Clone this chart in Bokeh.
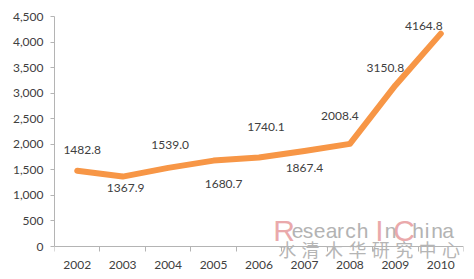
from bokeh.plotting import figure
from bokeh.models import (Range1d, FixedTicker, NumeralTickFormatter, Label,
                          ColumnDataSource)
from bokeh.core.properties import value
from bokeh.embed import file_html
from bokeh.resources import INLINE

# ---- data ----
years = ["2002", "2003", "2004", "2005", "2006", "2007", "2008", "2009", "2010"]
values = [1482.8, 1367.9, 1539.0, 1680.7, 1740.1, 1867.4, 2008.4, 3150.8, 4164.8]
y_ticks = [0, 500, 1000, 1500, 2000, 2500, 3000, 3500, 4000, 4500]

# label offsets (screen px) - layout only
label_dx = [5, 3, 2, 10, 7, 0, -10, -10, -17]
label_dy = [-21, 11, -23, 23, -31, 17, -28, -17, -8]

W, H = 474, 279
L, R, T = 54, 11, 16
AXIS_Y = 246          # screen row of the value 0
FONT = "Lato"
TXT = "#404040"
AX = "#b4b4b4"

ymax = y_ticks[-1]
fh = (AXIS_Y - T) / ymax              # px per unit
ymin = -(H - AXIS_Y) / fh              # extend frame to bottom edge

p = figure(width=W, height=H, output_backend="svg", toolbar_location=None,
           x_range=Range1d(-0.5, len(years) - 0.5), y_range=Range1d(ymin, ymax),
           min_border_left=L, min_border_right=R, min_border_top=T,
           min_border_bottom=0)
p.outline_line_color = None
p.xgrid.visible = False
p.ygrid.visible = False
p.background_fill_color = "white"
p.border_fill_color = "white"

xs = list(range(len(years)))

# y axis
p.yaxis.ticker = FixedTicker(ticks=y_ticks)
p.yaxis.bounds = (0, ymax)
p.yaxis.formatter = NumeralTickFormatter(format="0,0")
p.yaxis.axis_line_color = AX
p.yaxis.major_tick_line_color = AX
p.yaxis.major_tick_out = 4
p.yaxis.major_tick_in = 0
p.yaxis.minor_tick_line_color = None
p.yaxis.major_label_standoff = 7
p.yaxis.major_label_text_font = FONT
p.yaxis.major_label_text_font_size = "12px"
p.yaxis.major_label_text_color = TXT

# x axis
p.xaxis.fixed_location = 0
p.xaxis.ticker = FixedTicker(ticks=xs, minor_ticks=[i - 0.5 for i in range(len(years) + 1)])
p.xaxis.major_label_overrides = {i: y for i, y in enumerate(years)}
p.xaxis.axis_line_color = AX
p.xaxis.major_tick_line_color = None
p.xaxis.major_tick_out = 5
p.xaxis.major_tick_in = 0
p.xaxis.minor_tick_line_color = AX
p.xaxis.minor_tick_out = 5
p.xaxis.minor_tick_in = 0
p.xaxis.major_label_standoff = 9
p.xaxis.major_label_text_font = FONT
p.xaxis.major_label_text_font_size = "12px"
p.xaxis.major_label_text_color = TXT

# ---- watermark ----
fw = (W - L - R) / len(years)


def dx(px):
    return (px - L) / fw - 0.5


def dy(py):
    return (AXIS_Y - py) / fh


wm_letters = list("ResearchInChina")
wm_centers = [283.5, 297, 307.5, 319, 331, 340, 350, 362, 379, 390, 403.5, 417.5, 426.5, 436.5, 447.5]
pink = "#eaa9ab"
grey = "#b3b3b3"
for ch, cx in zip(wm_letters, wm_centers):
    col = pink if ch in "RIC" else grey
    p.add_layout(Label(x=dx(cx), y=dy(230), text=ch, text_align="center",
                       text_baseline="alphabetic", text_color=col,
                       text_font="Liberation Sans",
                       text_font_size="30px" if ch in "RIC" else "21px"))

cn = "水清木华研究中心"
for i, ch in enumerate(cn):
    cx = 275 + 11.7 + 23.4 * i
    p.add_layout(Label(x=dx(cx), y=dy(248.5), text=ch, text_align="center",
                       text_baseline="middle", text_color="#b5b5b5",
                       text_font="Noto Sans CJK SC", text_font_size="18px"))

# ---- line ----
src = ColumnDataSource(dict(x=xs, y=values,
                            lab=[f"{v:.1f}" for v in values],
                            dx=label_dx, dy=label_dy))
p.line("x", "y", source=src, line_width=6, line_color="#F79646",
       line_join="round", line_cap="round")
p.text("x", "y", text="lab", source=src, x_offset="dx", y_offset="dy",
       text_align="center", text_baseline="middle", text_font=value(FONT),
       text_font_size="12px", text_color=TXT)

open("out.html", "w").write(file_html(p, INLINE))
